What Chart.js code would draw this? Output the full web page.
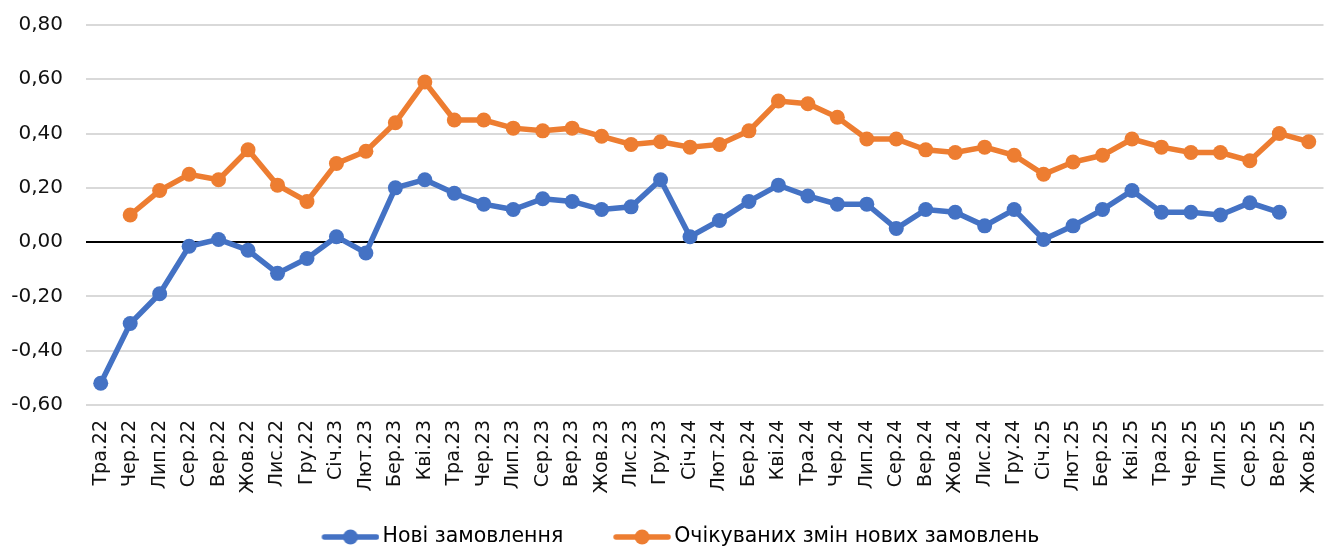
<!DOCTYPE html>
<html>
<head>
<meta charset="utf-8">
<script src="https://cdn.jsdelivr.net/npm/chart.js@4/dist/chart.umd.min.js"></script>
<style>
  html, body { margin: 0; padding: 0; background: #fff; overflow: hidden; }
  #wrap { width: 1331px; height: 548px; }
</style>
</head>
<body>
<div id="wrap"><canvas id="c" width="1331" height="548"></canvas></div>
<script>
const categories = ['Тра.22','Чер.22','Лип.22','Сер.22','Вер.22','Жов.22','Лис.22','Гру.22',
  'Січ.23','Лют.23','Бер.23','Кві.23','Тра.23','Чер.23','Лип.23','Сер.23','Вер.23','Жов.23','Лис.23','Гру.23',
  'Січ.24','Лют.24','Бер.24','Кві.24','Тра.24','Чер.24','Лип.24','Сер.24','Вер.24','Жов.24','Лис.24','Гру.24',
  'Січ.25','Лют.25','Бер.25','Кві.25','Тра.25','Чер.25','Лип.25','Сер.25','Вер.25','Жов.25'];

const newOrders = [-0.52,-0.30,-0.19,-0.015,0.01,-0.03,-0.115,-0.06,
  0.02,-0.04,0.20,0.23,0.18,0.14,0.12,0.16,0.15,0.12,0.13,0.23,
  0.02,0.08,0.15,0.21,0.17,0.14,0.14,0.05,0.12,0.11,0.06,0.12,
  0.01,0.06,0.12,0.19,0.11,0.11,0.10,0.145,0.11,null];

const expectedOrders = [null,0.10,0.19,0.25,0.23,0.34,0.21,0.15,
  0.29,0.335,0.44,0.59,0.45,0.45,0.42,0.41,0.42,0.39,0.36,0.37,
  0.35,0.36,0.41,0.52,0.51,0.46,0.38,0.38,0.34,0.33,0.35,0.32,
  0.25,0.295,0.32,0.38,0.35,0.33,0.33,0.30,0.40,0.37];

const seriesNames = ['Нові замовлення', 'Очікуваних змін нових замовлень'];
const seriesColors = ['#4472C4', '#ED7D31'];
const yTickValues = [-0.6,-0.4,-0.2,0,0.2,0.4,0.6,0.8];

// legend marker: line with a dot, placed at the right end of a wider transparent canvas
function legendMarker(color) {
  const c = document.createElement('canvas');
  c.width = 95; c.height = 16;
  const g = c.getContext('2d');
  const x0 = c.width - 58;
  g.strokeStyle = color; g.lineWidth = 5.5; g.lineCap = 'round';
  g.beginPath(); g.moveTo(x0 + 3, 8); g.lineTo(x0 + 55, 8); g.stroke();
  g.fillStyle = color;
  g.beginPath(); g.arc(x0 + 29, 8, 7.5, 0, Math.PI * 2); g.fill();
  return c;
}
const markers = seriesColors.map(legendMarker);

new Chart(document.getElementById('c'), {
  type: 'line',
  data: {
    labels: categories,
    datasets: [
      { label: seriesNames[0], data: newOrders, borderColor: seriesColors[0], backgroundColor: seriesColors[0],
        borderWidth: 5.5, pointRadius: 7.5, pointBorderWidth: 0, pointHoverRadius: 7.5, tension: 0, spanGaps: false },
      { label: seriesNames[1], data: expectedOrders, borderColor: seriesColors[1], backgroundColor: seriesColors[1],
        borderWidth: 5.5, pointRadius: 7.5, pointBorderWidth: 0, pointHoverRadius: 7.5, tension: 0, spanGaps: false }
    ]
  },
  options: {
    responsive: false,
    animation: false,
    layout: { padding: { top: 25, right: 0, left: 0, bottom: -9.25 } },
    plugins: {
      tooltip: { enabled: false },
      legend: {
        position: 'bottom',
        labels: {
          usePointStyle: true,
          pointStyleWidth: 80.75,
          padding: 20,
          color: '#111',
          font: { family: 'DejaVu Sans', size: 20.5 },
          generateLabels: (chart) => chart.data.datasets.map((ds, i) => ({
            text: ds.label, pointStyle: markers[i], fillStyle: ds.borderColor,
            strokeStyle: ds.borderColor, lineWidth: 0, datasetIndex: i, hidden: false
          }))
        }
      }
    },
    scales: {
      x: {
        offset: true,
        grid: { display: false, drawTicks: false },
        border: { display: false },
        ticks: {
          minRotation: 90, maxRotation: 90, autoSkip: false, padding: 15,
          color: '#111', font: { family: 'DejaVu Sans', size: 19 }
        },
        afterFit: (s) => { s.height = 101.75; s.paddingLeft = 0; s.paddingRight = 0; }
      },
      y: {
        min: -0.6, max: 0.8,
        afterBuildTicks: (s) => { s.ticks = yTickValues.map(v => ({ value: v })); },
        grid: {
          drawTicks: false,
          color: (ctx) => (ctx.tick && Math.abs(ctx.tick.value) < 1e-9) ? '#000' : '#d9d9d9',
          lineWidth: 2
        },
        border: { display: false },
        ticks: {
          padding: 23,
          color: '#111',
          font: { family: 'DejaVu Sans', size: 20 },
          callback: (v) => Number(v).toFixed(2).replace('.', ',')
        },
        afterFit: (s) => { s.width = 86; s.paddingTop = 0; s.paddingBottom = 0; }
      }
    }
  }
});
</script>
</body>
</html>
